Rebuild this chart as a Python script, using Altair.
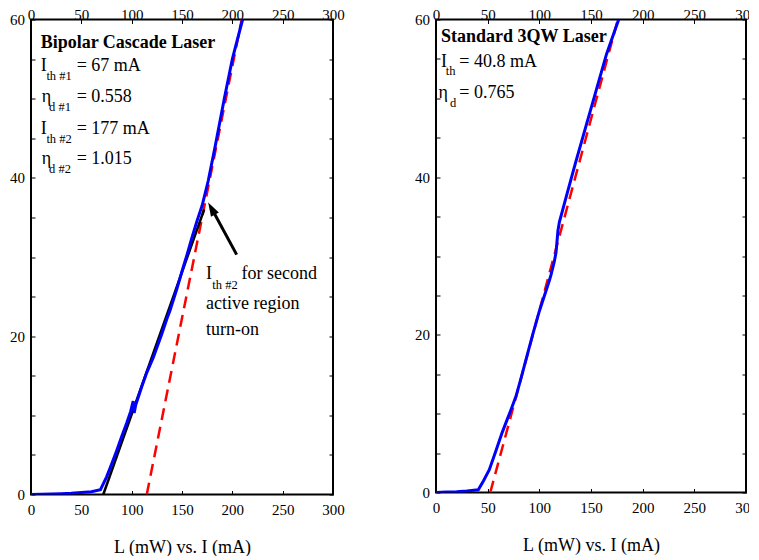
import altair as alt
import pandas as pd

FONT = "Liberation Serif, Tinos, Times New Roman, Times, DejaVu Serif, serif"

# ---------------- data: left panel (bipolar cascade laser) ----------------
bc_I = [0, 10, 20, 30, 40, 50, 60, 69, 75, 80, 85, 90, 95, 99, 101.5, 102.5, 104,
        110, 115, 121.5, 130, 135, 138, 145, 150, 155, 160, 165, 170, 176, 183, 192, 200, 210.2]
bc_L = [0, 0.02, 0.05, 0.1, 0.15, 0.25, 0.35, 0.6, 2.2, 3.8, 5.5, 7.3, 9.0, 10.5, 11.8, 10.3, 11.3,
        13.6, 15.4, 17.3, 20.3, 22.2, 23.2, 26.0, 28.2, 30.3, 32.5, 34.6, 36.5, 39.6, 44.0, 50.0, 55.0, 60.0]
fit1_I = [71.8, 172]
fit1_L = [0, 36]
fit2_I = [115, 209.3]
fit2_L = [0, 60]
arrow_I = [204.3, 180.0]
arrow_L = [30.3, 36.0]
head_I = [176.0]
head_L = [36.9]

# ---------------- data: right panel (standard 3QW laser) ----------------
sq_I = [0, 10, 20, 30, 40.9, 46, 51.6, 58, 64, 69.3, 72, 77.4, 82.3, 93.5, 100, 109.7, 111.3,
        114.5, 116.2, 118, 119.4, 125.8, 135, 145, 155, 165, 176.8]
sq_L = [0, 0.05, 0.1, 0.2, 0.35, 1.5, 2.9, 5.3, 7.6, 9.4, 10.3, 12.2, 14.5, 20.0, 23.0, 26.9, 27.6,
        29.3, 30.5, 33.2, 34.3, 37.4, 41.8, 46.4, 51.0, 55.6, 60.0]
fitr_I = [52.5, 176]
fitr_L = [0, 60]

x_ticks = [0, 50, 100, 150, 200, 250, 300]
y_ticks = [0, 5, 10, 15, 20, 25, 30, 35, 40, 45, 50, 55, 60]

# ---------------- annotation text ----------------
left_title = ["Bipolar Cascade Laser"]
left_title_x = [9.6]
left_title_y = [56.4]
left_main_t = ["I", "= 67 mA", "η", "= 0.558", "I", "= 177 mA", "η", "= 1.015",
               "I", "for second", "active region", "turn-on"]
left_main_x = [9.6, 45.4, 10.6, 45.4, 9.6, 45.4, 10.6, 45.4, 173.8, 209.2, 173.8, 173.8]
left_main_y = [53.5, 53.5, 49.6, 49.6, 45.5, 45.5, 41.7, 41.7, 27.2, 27.2, 23.4, 20.2]
left_sub_t = ["th #1", "d #1", "th #2", "d #2", "th #2"]
left_sub_x = [15.3, 18.0, 15.3, 18.0, 180.1]
left_sub_y = [52.4, 48.4, 44.4, 40.6, 26.0]

right_title = ["Standard 3QW Laser"]
right_title_x = [4.8]
right_title_y = [57.1]
right_main_t = ["I", "= 40.8 mA", "η", "= 0.765"]
right_main_x = [4.8, 22.6, 2.5, 22.6]
right_main_y = [54.0, 54.0, 50.1, 50.1]
right_sub_t = ["th", "d"]
right_sub_x = [9.4, 13.6]
right_sub_y = [53.0, 48.9]

XS = alt.Scale(domain=[0, 300], nice=False, zero=False)
YS = alt.Scale(domain=[0, 60], nice=False, zero=False)

TICK = {"expr": "-4"}
common = dict(grid=False, domain=False, tickColor="black", tickWidth=1, tickSize=TICK,
              labelFont=FONT, labelFontSize=15, labelColor="black",
              labelFlush=False, labelOverlap=False)

ax_bottom = alt.Axis(orient="bottom", values=x_ticks, labelPadding=12,
                     title="L (mW) vs. I (mA)", titleFont=FONT, titleFontSize=18,
                     titleFontWeight="normal", titleColor="black", titlePadding=21, **common)
ax_top = alt.Axis(orient="top", values=x_ticks, labelPadding=1, title=None, **common)
ax_left = alt.Axis(orient="left", values=y_ticks, labelPadding=10.5, title=None,
                   labelExpr="datum.value % 20 === 0 ? datum.label : ''", **common)
ax_right = alt.Axis(orient="right", values=y_ticks, labels=False, title=None, **common)


def line_layer(I, L, color, width, dash=None, xaxis=None, yaxis=None):
    df = pd.DataFrame({"I": I, "L": L, "k": list(range(len(I)))})
    kw = dict(color=color, strokeWidth=width, clip=True)
    if dash:
        kw["strokeDash"] = dash
    return alt.Chart(df).mark_line(**kw).encode(
        x=alt.X("I:Q", scale=XS, axis=xaxis),
        y=alt.Y("L:Q", scale=YS, axis=yaxis),
        order="k:Q",
    )


def text_layer(t, x, y, size, weight="normal"):
    df = pd.DataFrame({"t": t, "x": x, "y": y})
    return alt.Chart(df).mark_text(align="left", baseline="alphabetic", font=FONT,
                                   fontSize=size, fontWeight=weight, color="black").encode(
        x=alt.X("x:Q", scale=XS, axis=None),
        y=alt.Y("y:Q", scale=YS, axis=None),
        text="t:N",
    )


# ---------- left panel ----------
l_red = line_layer(fit2_I, fit2_L, "#ff0000", 2.5, [12, 7], ax_top, ax_right)
l_black = line_layer(fit1_I, fit1_L, "black", 2.5)
l_blue = line_layer(bc_I, bc_L, "#0000ff", 3, None, ax_bottom, ax_left)
l_arrow = line_layer(arrow_I, arrow_L, "black", 3)
l_head = alt.Chart(pd.DataFrame({"I": head_I, "L": head_L})).mark_point(
    shape="M0,0L-0.42,1.3L0.42,1.3Z", size=460, filled=True, color="black",
    opacity=1, angle=331).encode(
    x=alt.X("I:Q", scale=XS, axis=None), y=alt.Y("L:Q", scale=YS, axis=None))

left = alt.layer(
    l_red, l_black, l_blue, l_arrow, l_head,
    text_layer(left_title, left_title_x, left_title_y, 18, "bold"),
    text_layer(left_main_t, left_main_x, left_main_y, 18),
    text_layer(left_sub_t, left_sub_x, left_sub_y, 12.5),
).resolve_axis(x="independent", y="independent").properties(width=302, height=475)

# ---------- right panel ----------
r_red = line_layer(fitr_I, fitr_L, "#ff0000", 2.5, [12, 7], ax_top, ax_right)
r_blue = line_layer(sq_I, sq_L, "#0000ff", 3, None, ax_bottom, ax_left)

right = alt.layer(
    r_red, r_blue,
    text_layer(right_title, right_title_x, right_title_y, 18, "bold"),
    text_layer(right_main_t, right_main_x, right_main_y, 18),
    text_layer(right_sub_t, right_sub_x, right_sub_y, 12.5),
).resolve_axis(x="independent", y="independent").properties(width=310, height=473)

chart = alt.hconcat(left, right, spacing=67).properties(
    padding={"left": 0, "top": -1.5, "right": -10, "bottom": -2},
    background="white",
).configure_view(stroke="black", strokeWidth=2)

chart.save("out.html", embed_options={"renderer": "svg", "actions": False})
